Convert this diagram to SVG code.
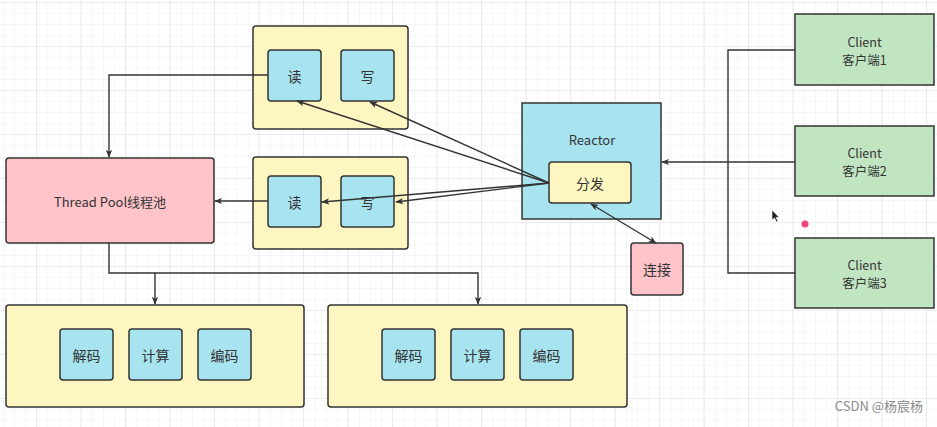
<svg xmlns="http://www.w3.org/2000/svg" width="937" height="427" viewBox="0 0 937 427">
<defs>
<pattern id="minor" x="3" y="2" width="11.125" height="11" patternUnits="userSpaceOnUse">
<path d="M0 0H11.125M0 0V11" fill="none" stroke="#efefef" stroke-width="1"/>
</pattern>
<pattern id="major" x="36" y="2" width="44.5" height="44" patternUnits="userSpaceOnUse">
<path d="M0 0H44.5M0 0V44" fill="none" stroke="#e2e2e2" stroke-width="1.2"/>
</pattern>
<marker id="arr" viewBox="0 0 10 10" refX="9" refY="5" markerWidth="8" markerHeight="8" orient="auto-start-reverse" markerUnits="userSpaceOnUse">
<path d="M0 1L10 5L0 9L2.5 5Z" fill="#333"/>
</marker>
</defs>
<style>
.box{stroke:#333;stroke-width:1.5}
.y{fill:#fef6c0}
.c{fill:#a8e4f0}
.p{fill:#ffc3ca}
.g{fill:#c1e5c1}
.t{font-family:"Noto Sans CJK SC","Liberation Sans",sans-serif;font-size:14px;fill:#333;text-anchor:middle;dominant-baseline:central}
.s{font-size:12.5px}
.e{fill:none;stroke:#333;stroke-width:1.4}
</style>
<rect width="937" height="427" fill="#fff"/>
<rect width="937" height="427" fill="url(#minor)"/>
<rect width="937" height="427" fill="url(#major)"/>

<g id="io1">
<rect class="box y" x="253" y="26" width="155" height="103" rx="3"/>
</g>
<g id="read1"><rect class="box c" x="268" y="50" width="53" height="51" rx="3"/><text class="t" x="294.5" y="75.5">读</text></g>
<g id="write1"><rect class="box c" x="341" y="50" width="53" height="51" rx="3"/><text class="t" x="367.5" y="75.5">写</text></g>

<g id="io2">
<rect class="box y" x="253" y="157" width="155" height="92" rx="3"/>
</g>
<g id="read2"><rect class="box c" x="268" y="176" width="53" height="51" rx="3"/><text class="t" x="294.5" y="201.5">读</text></g>
<g id="write2"><rect class="box c" x="341" y="176" width="53" height="51" rx="3"/><text class="t" x="367.5" y="201.5">写</text></g>

<g id="threadpool"><rect class="box p" x="6" y="158" width="208" height="85" rx="3"/><text class="t" x="110" y="201" style="font-size:13px">Thread Pool线程池</text></g>

<g id="reactor"><rect class="box c" x="522" y="103" width="139" height="116" rx="0"/><text class="t" x="592" y="139" style="font-size:13px">Reactor</text></g>
<g id="dispatch"><rect class="box y" x="549" y="162" width="82" height="41" rx="3"/><text class="t" x="590" y="183">分发</text></g>

<g id="connect"><rect class="box p" x="631" y="243" width="52" height="52" rx="3"/><text class="t" x="657" y="269">连接</text></g>

<g id="client1"><rect class="box g" x="795" y="14" width="139" height="71" rx="0"/><text class="t s" x="864.5" y="41">Client</text><text class="t s" x="864.5" y="59">客户端1</text></g>
<g id="client2"><rect class="box g" x="795" y="126" width="139" height="70" rx="0"/><text class="t s" x="864.5" y="152">Client</text><text class="t s" x="864.5" y="170">客户端2</text></g>
<g id="client3"><rect class="box g" x="795" y="238" width="139" height="70" rx="0"/><text class="t s" x="864.5" y="264">Client</text><text class="t s" x="864.5" y="282">客户端3</text></g>

<g id="work1">
<rect class="box y" x="6" y="305" width="298" height="102" rx="3"/>
<rect class="box c" x="60" y="329" width="53" height="51" rx="3"/><text class="t" x="86.5" y="354.5">解码</text>
<rect class="box c" x="129" y="329" width="53" height="51" rx="3"/><text class="t" x="155.5" y="354.5">计算</text>
<rect class="box c" x="198" y="329" width="53" height="51" rx="3"/><text class="t" x="224.5" y="354.5">编码</text>
</g>
<g id="work2">
<rect class="box y" x="328" y="305" width="299" height="102" rx="3"/>
<rect class="box c" x="382" y="329" width="53" height="51" rx="3"/><text class="t" x="408.5" y="354.5">解码</text>
<rect class="box c" x="451" y="329" width="53" height="51" rx="3"/><text class="t" x="477.5" y="354.5">计算</text>
<rect class="box c" x="520" y="329" width="53" height="51" rx="3"/><text class="t" x="546.5" y="354.5">编码</text>
</g>

<g id="connectors">
<path class="e" d="M795 50H728V273H795"/>
<path class="e" d="M795 162H662" marker-end="url(#arr)"/>
<path class="e" d="M549 183L297 101" marker-end="url(#arr)"/>
<path class="e" d="M549 183L370 102" marker-end="url(#arr)"/>
<path class="e" d="M549 183L322 202" marker-end="url(#arr)"/>
<path class="e" d="M549 183L396 202" marker-end="url(#arr)"/>
<path class="e" d="M591 204L656 243" marker-start="url(#arr)" marker-end="url(#arr)"/>
<path class="e" d="M268 75H109V157" marker-end="url(#arr)"/>
<path class="e" d="M268 201H215" marker-end="url(#arr)"/>
<path class="e" d="M109 243V273H478V304"  marker-end="url(#arr)"/>
<path class="e" d="M155 273V304" marker-end="url(#arr)"/>
</g>

<circle cx="805" cy="224" r="3.5" fill="#f0467e"/>
<path d="M772 210L772 220L774.5 218L776.5 222L778 221.3L776 217.5L779 217.2Z" fill="#222" stroke="#fff" stroke-width="0.6"/>
<text x="923" y="411" style="font-family:'Noto Sans CJK SC','Liberation Sans',sans-serif;font-size:13px;fill:#8a8a8a;text-anchor:end">CSDN @杨宸杨</text>
</svg>
